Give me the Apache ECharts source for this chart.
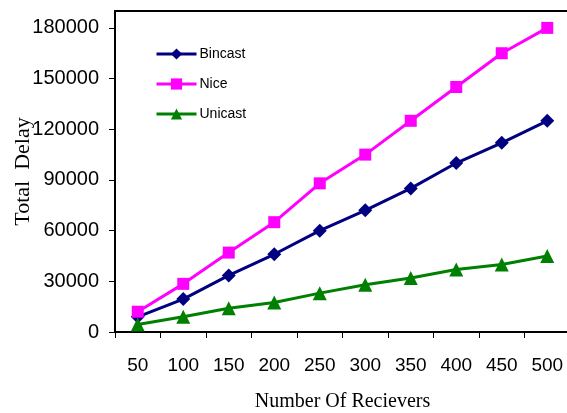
<!DOCTYPE html>
<html>
<head>
<meta charset="utf-8">
<script src="https://cdn.jsdelivr.net/npm/echarts@6/dist/echarts.min.js"></script>
<style>
  html, body { margin: 0; padding: 0; background: #fff; }
  #chart { width: 567px; height: 413px; }
</style>
</head>
<body>
<div id="chart"></div>
<script>
// Receiver counts on the x axis
const receivers = ['50', '100', '150', '200', '250', '300', '350', '400', '450', '500'];

// Total delay for each protocol
const bincast = [9000, 19500, 33500, 46000, 60000, 72000, 85000, 100000, 112000, 125000];
const nice    = [12000, 28500, 47000, 65000, 88000, 105000, 125000, 145000, 165000, 180000];
const unicast = [4500, 9000, 14000, 17500, 23000, 28000, 32000, 37000, 40000, 45000];

const sans = 'Liberation Sans, Arial, sans-serif';
const serif = 'Liberation Serif, Times New Roman, serif';

function series(name, data, color, symbol, size) {
  return {
    name, type: 'line', data,
    symbol, symbolSize: size,
    lineStyle: { color, width: 3 },
    itemStyle: { color },
    animation: false
  };
}

const chart = echarts.init(document.getElementById('chart'), null, { renderer: 'canvas' });
chart.setOption({
  backgroundColor: '#fff',
  grid: { left: 115, right: -3, top: 11, bottom: 81, containLabel: false, outerBoundsMode: 'none' },
  legend: {
    orient: 'vertical',
    left: 150, top: 42,
    itemWidth: 40, itemHeight: 14, itemGap: 16,
    lineStyle: { width: 3 },
    textStyle: { fontFamily: sans, fontSize: 14, color: '#000', padding: [0, 0, 0, -2] },
    data: ['Bincast', 'Nice', 'Unicast']
  },
  xAxis: [{
    type: 'category',
    data: receivers,
    boundaryGap: true,
    name: 'Number Of Recievers',
    nameLocation: 'middle',
    nameGap: 60,
    nameMoveOverlap: false,
    nameTextStyle: { fontFamily: serif, fontSize: 20, color: '#000' },
    axisLine: { lineStyle: { color: '#000', width: 2 } },
    axisTick: { show: true, length: 6, interval: 0, lineStyle: { color: '#000', width: 1 } },
    axisLabel: { fontFamily: sans, fontSize: 19, color: '#000', margin: 24, interval: 0 },
    splitLine: { show: false }
  }, {
    type: 'category',
    data: receivers,
    position: 'top',
    axisLine: { show: true, lineStyle: { color: '#000', width: 2 } },
    axisTick: { show: false },
    axisLabel: { show: false }
  }],
  yAxis: {
    type: 'value',
    min: 0, max: 190000, interval: 30000,
    name: 'Total  Delay',
    nameLocation: 'middle',
    nameGap: 81,
    nameMoveOverlap: false,
    nameTextStyle: { fontFamily: serif, fontSize: 22, color: '#000' },
    axisLine: { show: true, lineStyle: { color: '#000', width: 2 } },
    axisTick: { show: true, length: 6, lineStyle: { color: '#000', width: 1 } },
    axisLabel: {
      fontFamily: sans, fontSize: 20, color: '#000', margin: 16, showMaxLabel: false,
      formatter: v => String(v)
    },
    splitLine: { show: false }
  },
  series: [
    series('Bincast', bincast, '#000080', 'diamond', 14),
    series('Nice', nice, '#FF00FF', 'rect', 12),
    series('Unicast', unicast, '#008000', 'triangle', 14)
  ]
});
</script>
</body>
</html>
